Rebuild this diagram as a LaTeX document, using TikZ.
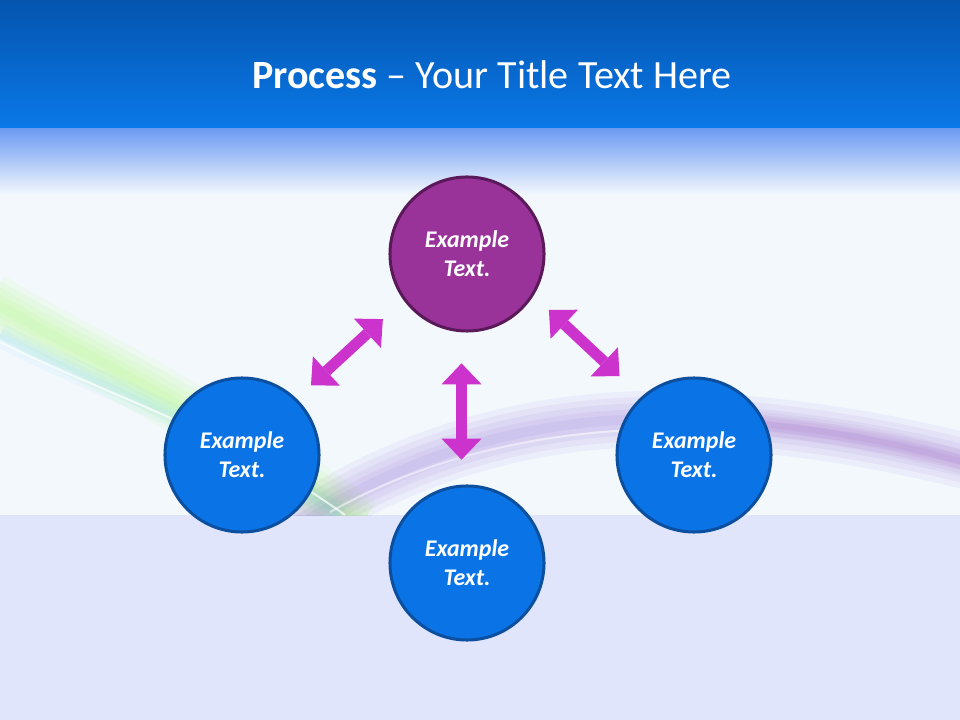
\documentclass[tikz,border=0pt]{standalone}
\usepackage{fontspec}
\setmainfont{Carlito}
\usepackage{tikz}
\usetikzlibrary{arrows.meta}

\definecolor{bandtop}{HTML}{0455AE}
\definecolor{bandbot}{HTML}{0A78E8}
\definecolor{fadetop}{HTML}{6A98F2}
\definecolor{slidebg}{HTML}{F3F8FD}
\definecolor{lowbg}{HTML}{E0E5FC}
\definecolor{hubfill}{HTML}{993399}
\definecolor{hubline}{HTML}{5A1A5A}
\definecolor{stepfill}{HTML}{0A74E6}
\definecolor{stepline}{HTML}{0B4F9E}
\definecolor{arrowmag}{HTML}{CC33CC}

\begin{document}
\begin{tikzpicture}[x=0.025cm, y=-0.025cm]
    \tikzset{hub/.style = {shape=circle, draw=hubline, fill=hubfill, line width=0.075cm,
        minimum size=3.85cm, text=white, align=center,
        font=\fontsize{17}{20.5}\selectfont\bfseries\itshape}}
    \tikzset{stepnode/.style = {hub, draw=stepline, fill=stepfill}}
    \tikzset{link/.style = {draw=arrowmag, line width=0.275cm,
        {Triangle[width=1cm,length=0.525cm,line width=0pt]}-{Triangle[width=1cm,length=0.525cm,line width=0pt]}}}
    \useasboundingbox (0,0) rectangle (960,720);
    % background
    \fill[slidebg] (0,0) rectangle (960,720);
    \fill[lowbg] (0,515) rectangle (960,720);
    \shade[top color=fadetop, bottom color=slidebg] (0,127) rectangle (960,195);
    \shade[top color=bandtop, bottom color=bandbot] (0,0) rectangle (960,128);
    % swooshes (soft edges from stacked strokes)
    \begin{scope}
        \clip (0,195) rectangle (960,516);
        \foreach \w in {1.4,1.1,0.8,0.5,0.25} {
            \draw[green!55!yellow, line width=\w cm, opacity=0.05] (-10,300) .. controls (90,360) and (190,400) .. (360,525);
            \draw[blue!45!violet, line width=\w cm, opacity=0.045] (300,525) .. controls (420,445) and (560,412) .. (700,420) .. controls (820,428) and (900,445) .. (970,462);
        }
        \foreach \w in {0.6,0.35,0.15} {
            \draw[cyan!60, line width=\w cm, opacity=0.07] (0,335) .. controls (110,392) and (220,425) .. (340,515);
            \draw[violet!80, line width=\w cm, opacity=0.06] (760,424) .. controls (860,434) and (920,450) .. (970,464);
        }
        \draw[white, line width=0.05cm, opacity=0.7] (0,342) .. controls (110,397) and (230,432) .. (345,515);
        \draw[white, line width=0.05cm, opacity=0.5] (330,512) .. controls (440,450) and (570,425) .. (700,430);
    \end{scope}
    % title
    \node (title) at (492,75) {\color{white}\fontsize{28.5}{34}\selectfont\textbf{Process} – Your Title Text Here};
    % circles
    \node[hub] (T) at (467,254) {Example\\Text.};
    \node[stepnode] (L) at (242,455) {Example\\Text.};
    \node[stepnode] (R) at (694,455) {Example\\Text.};
    \node[stepnode] (B) at (467,563) {Example\\Text.};
    % arrows
    \draw[link, shorten <=0.49cm, shorten >=0.7cm] (L.46) -- (T.216);
    \draw[link, shorten <=0.525cm, shorten >=0.75cm] (T.328) -- (R.132);
    \draw[link, shorten <=0.775cm, shorten >=0.625cm] (T.266) -- (B.94);
\end{tikzpicture}
\end{document}
